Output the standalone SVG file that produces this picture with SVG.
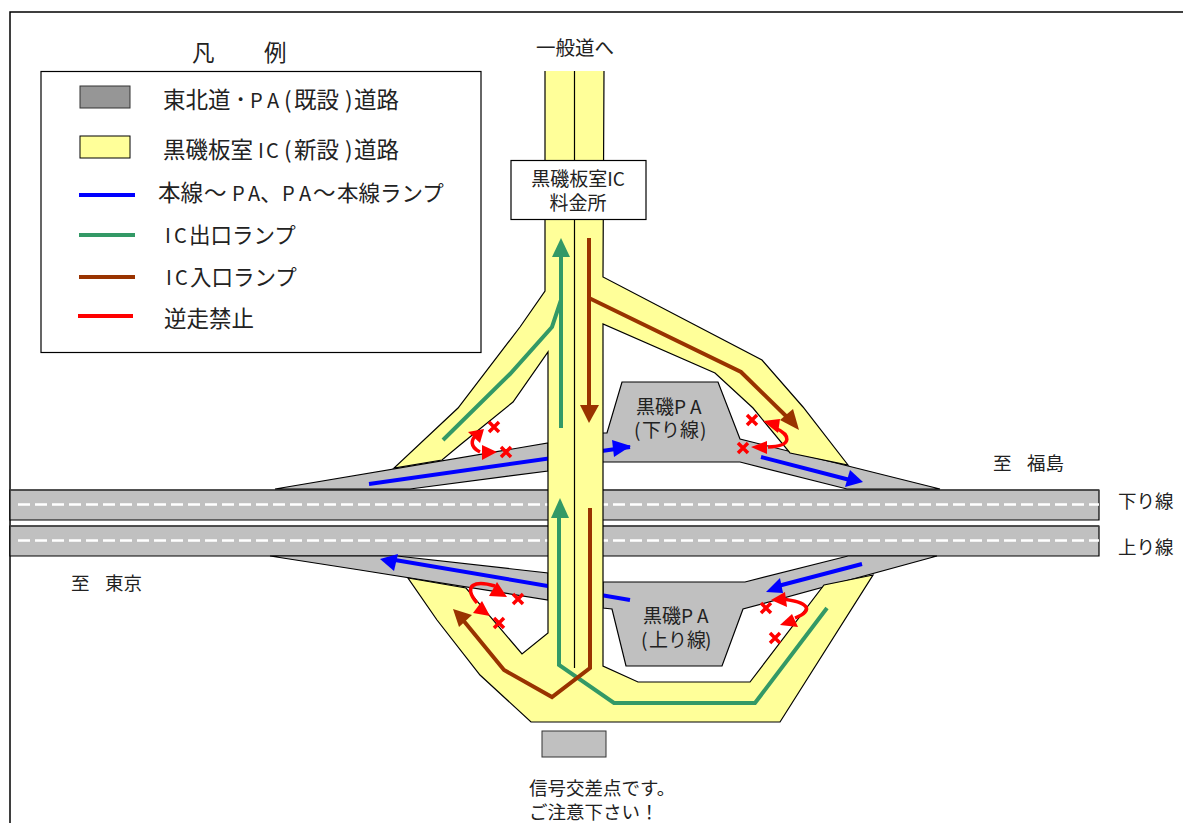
<svg xmlns="http://www.w3.org/2000/svg" width="1183" height="823" viewBox="0 0 1183 823">
<style>
text{font-family:"Noto Sans CJK JP","Noto Sans CJK SC",sans-serif;fill:#222;font-size:19px}
.l{font-size:22.500px}
.k{font-size:21.500px}
.p{font-size:20px}
.m{font-size:18.500px}
.road{fill:#c0c0c0;stroke:#000;stroke-width:1.2}
.yel{fill:#ffff99;stroke:#000;stroke-width:1.2}
.ln{fill:none;stroke-width:4}
.b{stroke:#0000ff}.g{stroke:#339966}.r{stroke:#993300}.x{stroke:#ff0000;stroke-width:3.5;fill:none}
.fb{fill:#0000ff}.fg{fill:#339966}.fr{fill:#993300}.fx{fill:#ff0000}
.dash{stroke:#fff;stroke-width:2.5;stroke-dasharray:12 5;fill:none}
</style>
<path d="M10 823V12H1183" fill="none" stroke="#000" stroke-width="1.5"/>
<g id="legend">
<rect x="41" y="71.500" width="440" height="281" fill="#fff" stroke="#000" stroke-width="1.2"/>
<text class="l" x="192" y="61">凡</text><text class="l" x="264" y="61">例</text>
<rect x="80" y="86" width="50" height="22" fill="#969696" stroke="#333"/>
<rect x="80" y="136" width="50" height="22" fill="#ffff99" stroke="#000"/>
<text class="l" x="163" y="108">東北道<tspan x="235">･</tspan><tspan class="p" x="250 267">PA</tspan><tspan x="284">(</tspan><tspan x="294">既設</tspan><tspan x="345">)</tspan><tspan x="354">道路</tspan></text>
<text class="l" x="163" y="158">黒磯板室<tspan class="p" x="258 266">IC</tspan><tspan x="284">(</tspan><tspan x="294">新設</tspan><tspan x="345">)</tspan><tspan x="354">道路</tspan></text>
<text class="l" x="158" y="201">本線<tspan x="204">～</tspan><tspan class="p" x="232 248">PA</tspan><tspan x="260">、</tspan><tspan class="p" x="282 299">PA</tspan><tspan x="313">～</tspan><tspan class="k" x="337">本線ランプ</tspan></text>
<text class="l" x="165" y="243"><tspan class="p" x="165 174">IC</tspan><tspan class="k" x="189">出口ランプ</tspan></text>
<text class="l" x="166" y="285"><tspan class="p" x="166 175">IC</tspan><tspan class="k" x="190">入口ランプ</tspan></text>
<text class="l" x="164" y="327">逆走禁止</text>
<path d="M79 195H135" class="ln b"/><path d="M79 235H135" class="ln g"/><path d="M79 277H135" class="ln r"/><path d="M78 316H133" class="ln" stroke="#ff0000"/>
</g>
<g id="highway">
<path class="road" d="M10 490H1099V520H10Z"/><path class="road" d="M10 526H1099V556H10Z"/>
<path d="M10 490H1099M10 526H1099" stroke="#444" stroke-width="1.5" fill="none"/>
<path class="dash" d="M18 504.500H1099M18 540.500H1099"/>
<text class="m" x="1118" y="508">下り線</text><text class="m" x="1118" y="554">上り線</text>
</g>
<g id="pa-down">
<path class="road" d="M275 489L548 443V471L410 489Z"/>
<path class="road" d="M602 433H607L622 382H718L740 439L848 466L940 489H847L740 462H602Z"/>
<text x="636" y="414">黒磯<tspan x="674 690">PA</tspan></text>
<text x="634" y="437">(<tspan x="642">下り線</tspan><tspan x="700">)</tspan></text>
</g>
<g id="pa-up">
<path class="road" d="M270 556H397L548 573V600L360 570Z"/>
<path class="road" d="M603 582H745L848 556H937L743 609L722 666H626L612 609L603 608Z"/>
<text x="643" y="623">黒磯<tspan x="681 697">PA</tspan></text>
<text x="641" y="647">(<tspan x="649">上り線</tspan><tspan x="705">)</tspan></text>
</g>
<g id="connectors-under">
<path class="ln b" d="M369 484L630 447"/><path class="ln b" d="M630 600L395 560"/>
<polygon class="fb" points="631,446 612,440 614,457"/><polygon class="fb" points="380,559 398,554 394,571"/>
</g>
<g id="ic-road">
<path class="yel" d="M545 71V291L520 327L458 408L394 468L442 460L460 445L513 402L548 352V633L522 654L466 588L408 578L437 620L480 675L531 722H780L873 575L824 585L750 682H638L603 666V324L715 373L753 408L790 453L848 465L803 407L762 360L603 277L604 71" />
<path d="M574.500 71V668" stroke="#000" stroke-width="1.2"/>
</g>
<g id="toll-gate"><rect x="511" y="160.500" width="135" height="59" fill="#fff" stroke="#000" stroke-width="1.2"/>
<text x="578" y="186" text-anchor="middle">黒磯板室IC</text><text x="578" y="210" text-anchor="middle">料金所</text></g>
<g id="connectors">
<path class="ln g" d="M561 428V250"/><polygon class="fg" points="561,238 552,257 570,257"/>
<path class="ln g" d="M443 440L510 374L552 327L561 300"/>
<path class="ln g" d="M559 518V665L614 703H755L827 608"/><polygon class="fg" points="560,498 551,518 569,518"/>
<path class="ln r" d="M589 238V405"/><polygon class="fr" points="589,423 580,405 599,405"/>
<path class="ln r" d="M589 298L741 372L788 418"/><polygon class="fr" points="799,430 780,420 793,409"/>
<path class="ln r" d="M590 508V668L552 697L504 670L463 620"/><polygon class="fr" points="453,609 472,615 459,627"/>
<path class="ln b" d="M761 457L850 480"/><polygon class="fb" points="863,482 850,470 845,487"/>
<path class="ln b" d="M862 564L778 586"/><polygon class="fb" points="766,592 780,578 783,593"/>
<g id="no-entry">
<path class="x" d="M480 452C470 447 470 440 478 433"/><polygon class="fx" points="484,429 468,432 480,443"/><polygon class="fx" points="497,452 482,445 482,460"/>
<path class="x" d="M775 428C790 434 794 446 768 447"/><polygon class="fx" points="763,421 780,419 778,433"/><polygon class="fx" points="751,447 767,441 767,454"/>
<path class="x" d="M495 586C475 580 462 585 477 603"/><polygon class="fx" points="507,597 489,596 497,582"/><polygon class="fx" points="490,616 473,613 482,601"/>
<path class="x" d="M782 599C808 602 815 610 795 618"/><polygon class="fx" points="771,600 785,592 787,607"/><polygon class="fx" points="780,625 798,627 792,614"/>
<path class="x" d="M489 422L499 432M499 422L489 432M501 447L511 457M511 447L501 457M747 415L757 425M757 415L747 425M738 443L748 453M748 443L738 453M513 594L523 604M523 594L513 604M494 618L504 628M504 618L494 628M761 603L771 613M771 603L761 613M770 633L780 643M780 633L770 643"/>
</g>
</g>
<g id="signal"><rect x="542" y="731" width="64" height="26" fill="#c0c0c0" stroke="#333"/></g>
<text x="536" y="55" style="font-size:19.500px">一般道へ</text>
<text class="m" x="993" y="470">至<tspan x="1027">福島</tspan></text>
<text class="m" x="71" y="590">至<tspan x="105">東京</tspan></text>
<text class="m" x="529" y="795">信号交差点です。</text>
<text class="m" x="529" y="819">ご注意下さい！</text>
</svg>
